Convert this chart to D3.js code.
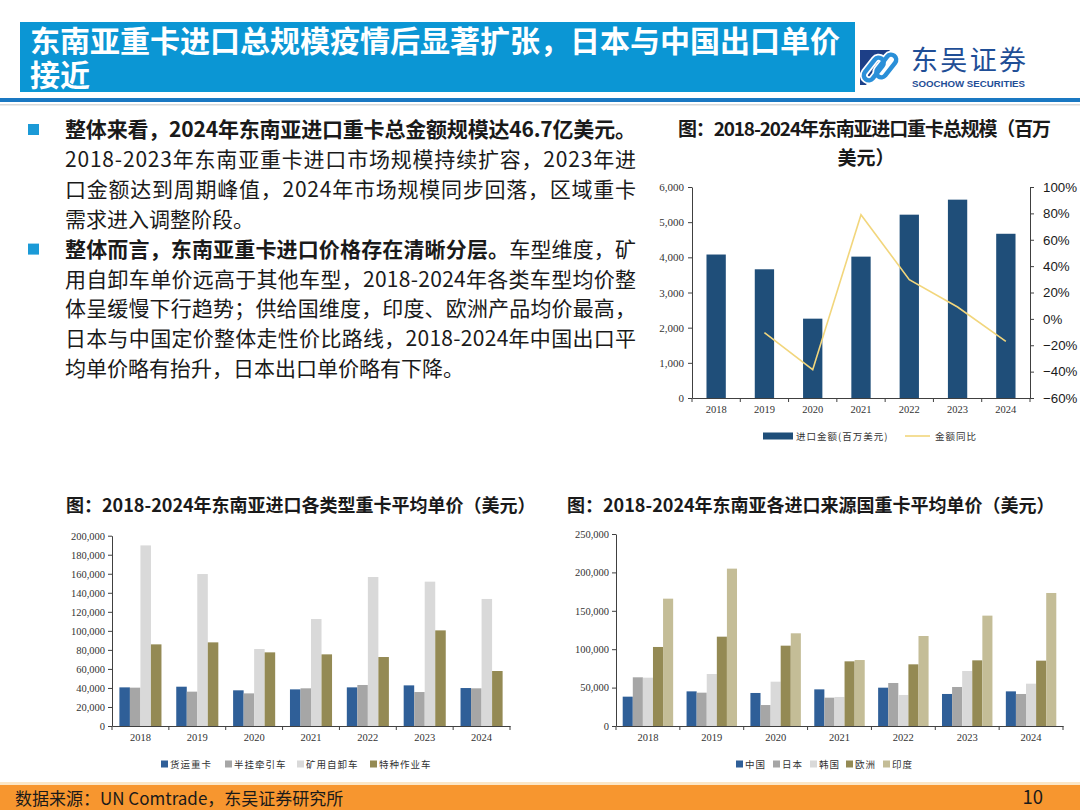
<!DOCTYPE html>
<html><head><meta charset="utf-8">
<script src="https://cdn.jsdelivr.net/npm/d3@7"></script>
<style>
body{margin:0;background:#fff;}
#wrap{position:relative;width:1080px;height:810px;}
svg{display:block;font-family:"Noto Sans CJK SC","Noto Sans",sans-serif;}
#ht{position:absolute;left:30px;top:22px;width:822px;font-family:"Noto Sans CJK SC",sans-serif;
  font-size:30px;font-weight:700;line-height:34px;color:#fff;margin:0;}
</style></head><body>
<div id="wrap">
<svg id="c" width="1080" height="810"></svg>
<div id="ht"></div>
</div>
<script>
// ---------- DATA ----------
const years = ["2018","2019","2020","2021","2022","2023","2024"];
const importValue = [4080,3660,2256,4020,5213,5640,4670];           // 百万美元
const importYoY = [null,-0.105,-0.385,0.79,0.297,0.09,-0.17];         // 金额同比
const importLeftTicks = [0,1000,2000,3000,4000,5000,6000];
const importRightTicks = [-0.6,-0.4,-0.2,0,0.2,0.4,0.6,0.8,1.0];

const typeNames = ["货运重卡","半挂牵引车","矿用自卸车","特种作业车"];
const typeFreight = [40600,41300,37500,38500,40600,42700,39900];
const typeTractor = [40300,36100,34300,39600,43100,35700,39600];
const typeMining  = [189800,159700,80900,112400,156600,151700,133500];
const typeSpecial = [85800,87900,77400,75300,72500,100500,57800];
const typeTicks = [0,20000,40000,60000,80000,100000,120000,140000,160000,180000,200000];

const originNames = ["中国","日本","韩国","欧洲","印度"];
const originChina  = [38200,45100,43000,47700,49900,41700,45100];
const originJapan  = [63400,43400,27300,36900,56000,50800,41700];
const originKorea  = [62900,67700,57700,37800,40400,71600,55100];
const originEurope = [102900,116300,104600,84200,80300,85500,85100];
const originIndia  = [165800,204900,120700,85900,117200,143700,173200];
const originTicks = [0,50000,100000,150000,200000,250000];

const headerTitle = "东南亚重卡进口总规模疫情后显著扩张，日本与中国出口单价接近";
const chart1Title = ["图：2018-2024年东南亚进口重卡总规模（百万","美元）"];
const chart2Title = "图：2018-2024年东南亚进口各类型重卡平均单价（美元）";
const chart3Title = "图：2018-2024年东南亚各进口来源国重卡平均单价（美元）";
const chart1Legend = ["进口金额(百万美元)","金额同比"];
const bodyLines = [
  [{b:true,t:"整体来看，2024年东南亚进口重卡总金额规模达46.7亿美元。"}],
  [{b:false,t:"2018-2023年东南亚重卡进口市场规模持续扩容，2023年进"}],
  [{b:false,t:"口金额达到周期峰值，2024年市场规模同步回落，区域重卡"}],
  [{b:false,t:"需求进入调整阶段。"}],
  [{b:true,t:"整体而言，东南亚重卡进口价格存在清晰分层。"},{b:false,t:"车型维度，矿"}],
  [{b:false,t:"用自卸车单价远高于其他车型，2018-2024年各类车型均价整"}],
  [{b:false,t:"体呈缓慢下行趋势；供给国维度，印度、欧洲产品均价最高，"}],
  [{b:false,t:"日本与中国定价整体走性价比路线，2018-2024年中国出口平"}],
  [{b:false,t:"均单价略有抬升，日本出口单价略有下降。"}]
];
const justified = [true,true,true,false,true,true,true,true,false];
const footerText = "数据来源：UN Comtrade，东吴证券研究所";
const pageNo = "10";

// ---------- DRAW ----------
const svg = d3.select("#c");
const serif = "'Liberation Serif','Times New Roman',serif";
const axisColor = "#404040";

// header
svg.append("rect").attr("x",20).attr("y",22).attr("width",835).attr("height",70).attr("fill","#0b96d4");
d3.select("#ht").text(headerTitle);
svg.append("rect").attr("x",0).attr("y",98).attr("width",1080).attr("height",4).attr("fill","#1a78c2");
svg.append("rect").attr("x",0).attr("y",104).attr("width",1080).attr("height",1.5).attr("fill","#d9d9d9");

// logo
const logo = svg.append("g");
logo.append("path").attr("d","M860,50 L890,50 L866,85 L860,85 Z").attr("fill","#1d3f87");
const lk = logo.append("g").attr("transform","translate(880,67.5) rotate(-52)");
[["#ffffff",8],["#2a8fd8",4.5]].forEach(([c,w])=>{
  lk.append("rect").attr("x",-18).attr("y",-9).attr("width",26).attr("height",10).attr("rx",5)
    .attr("fill","none").attr("stroke",c).attr("stroke-width",w);
  lk.append("rect").attr("x",-8).attr("y",-1).attr("width",26).attr("height",10).attr("rx",5)
    .attr("fill","none").attr("stroke",c).attr("stroke-width",w);
});
logo.append("text").attr("x",911).attr("y",70).attr("font-size",27).attr("fill","#1f4e96")
  .attr("textLength",115).attr("lengthAdjust","spacing").text("东吴证券");
logo.append("text").attr("x",912).attr("y",86.5).attr("font-size",8.5).attr("font-weight",700)
  .attr("font-family","'Liberation Sans',Arial,sans-serif")
  .attr("textLength",113).attr("lengthAdjust","spacingAndGlyphs").attr("fill","#1f4e96").text("SOOCHOW SECURITIES");

// body text
[0,4].forEach(i=>{
  svg.append("rect").attr("x",28).attr("y",124+i*29.9).attr("width",11).attr("height",11).attr("fill","#1b9ad7");
});
bodyLines.forEach((segs,i)=>{
  const t = svg.append("text").attr("x",65).attr("y",137+i*29.9).attr("font-size",21).attr("fill","#1a1a1a");
  if (justified[i]) t.attr("textLength",571).attr("lengthAdjust","spacing");
  segs.forEach(s=>t.append("tspan").attr("font-weight",s.b?700:400).text(s.t));
});

// helpers
function styleAxis(g, font, size){
  g.select(".domain").attr("stroke",axisColor);
  g.selectAll(".tick line").attr("stroke",axisColor);
  g.selectAll(".tick text").attr("font-family",font).attr("font-size",size).attr("fill","#333");
}
function xAxis(g, x, y0){
  const a = g.append("g").attr("transform",`translate(0,${y0})`)
    .call(d3.axisBottom(x).tickSize(0).tickPadding(8));
  styleAxis(a, serif, 10.5);
  const bounds = years.map(d=>x(d)).concat([x.range()[1]]);
  g.selectAll(null).data(bounds).join("line")
    .attr("x1",d=>d).attr("x2",d=>d).attr("y1",y0).attr("y2",y0+4).attr("stroke",axisColor);
}
function legendItems(g, names, colors, xs, yc){
  names.forEach((n,i)=>{
    g.append("rect").attr("x",xs[i]).attr("y",yc-3.5).attr("width",7).attr("height",7).attr("fill",colors[i]);
    g.append("text").attr("x",xs[i]+9).attr("y",yc).attr("dominant-baseline","central")
      .attr("font-size",9.5).attr("letter-spacing",1).attr("fill","#333").text(n);
  });
}
function groupedBars(cfg){
  const g = svg.append("g");
  const x = d3.scaleBand().domain(years).range([cfg.x0,cfg.x1]);
  const y = d3.scaleLinear().domain([0,cfg.max]).range([cfg.y0,cfg.yTop]);
  const xs = d3.scaleBand().domain(cfg.names).range([0,x.bandwidth()*cfg.inner]);
  const off = x.bandwidth()*(1-cfg.inner)/2;
  cfg.series.forEach((s,i)=>{
    g.selectAll(null).data(s).join("rect")
      .attr("x",(d,j)=>x(years[j])+off+xs(cfg.names[i]))
      .attr("y",d=>y(d)).attr("width",xs.bandwidth()).attr("height",d=>cfg.y0-y(d))
      .attr("fill",cfg.colors[i]);
  });
  const ya = g.append("g").attr("transform",`translate(${cfg.x0},0)`)
    .call(d3.axisLeft(y).tickValues(cfg.ticks).tickFormat(d3.format(",")).tickSize(4).tickSizeOuter(0).tickPadding(3));
  styleAxis(ya, serif, 10.5);
  xAxis(g, x, cfg.y0);
  legendItems(g, cfg.names, cfg.colors, cfg.legendX, cfg.legendY);
}

// ---- chart 1: total import ----
{
  const g = svg.append("g");
  svg.append("text").attr("x",678).attr("y",135.5).attr("font-size",19).attr("font-weight",700)
    .attr("textLength",373).attr("lengthAdjust","spacing").attr("fill","#1a1a1a").text(chart1Title[0]);
  svg.append("text").attr("x",866).attr("y",164.5).attr("text-anchor","middle").attr("font-size",19)
    .attr("font-weight",700).attr("fill","#1a1a1a").text(chart1Title[1]);
  const x0=692,x1=1030,y0=398,yTop=187;
  const x = d3.scaleBand().domain(years).range([x0,x1]);
  const yL = d3.scaleLinear().domain([0,6000]).range([y0,yTop]);
  const yR = d3.scaleLinear().domain([-0.6,1.0]).range([y0,yTop]);
  const bw = x.bandwidth()*0.4;
  g.selectAll(null).data(importValue).join("rect")
    .attr("x",(d,i)=>x(years[i])+(x.bandwidth()-bw)/2).attr("y",d=>yL(d))
    .attr("width",bw).attr("height",d=>y0-yL(d)).attr("fill","#1f4e79");
  const line = d3.line().defined(d=>d!==null)
    .x((d,i)=>x(years[i])+x.bandwidth()/2).y(d=>yR(d));
  g.append("path").datum(importYoY).attr("d",line).attr("fill","none")
    .attr("stroke","#f2d67c").attr("stroke-width",1.6);
  const la = g.append("g").attr("transform",`translate(${x0},0)`)
    .call(d3.axisLeft(yL).tickValues(importLeftTicks).tickFormat(d3.format(",")).tickSize(4).tickSizeOuter(0).tickPadding(4));
  styleAxis(la, serif, 11);
  const ra = g.append("g").attr("transform",`translate(${x1},0)`)
    .call(d3.axisRight(yR).tickValues(importRightTicks).tickFormat(d3.format(".0%")).tickSize(4).tickSizeOuter(0).tickPadding(9));
  styleAxis(ra, "'Liberation Sans',Arial,sans-serif", 13.3);
  ra.selectAll(".tick text").attr("fill","#1a1a1a");
  xAxis(g, x, y0);
  // legend
  g.append("rect").attr("x",763).attr("y",432.5).attr("width",30).attr("height",7).attr("fill","#1f4e79");
  g.append("text").attr("x",796).attr("y",436).attr("dominant-baseline","central")
    .attr("font-size",9.5).attr("letter-spacing",1).attr("fill","#333").text(chart1Legend[0]);
  g.append("line").attr("x1",905).attr("x2",930).attr("y1",436).attr("y2",436)
    .attr("stroke","#f2d67c").attr("stroke-width",1.6);
  g.append("text").attr("x",935).attr("y",436).attr("dominant-baseline","central")
    .attr("font-size",9.5).attr("letter-spacing",1).attr("fill","#333").text(chart1Legend[1]);
}

// ---- chart 2: by type ----
svg.append("text").attr("x",66).attr("y",511.5).attr("font-size",18).attr("font-weight",700)
  .attr("fill","#1a1a1a").text(chart2Title);
groupedBars({
  x0:112,x1:510,y0:726,yTop:535.7,max:200000,ticks:typeTicks,inner:0.74,
  names:typeNames,series:[typeFreight,typeTractor,typeMining,typeSpecial],
  colors:["#2f5f98","#a6a6a6","#d9d9d9","#948a54"],
  legendX:[161,225,297,370],legendY:764
});

// ---- chart 3: by origin ----
svg.append("text").attr("x",567).attr("y",511.5).attr("font-size",18).attr("font-weight",700)
  .attr("fill","#1a1a1a").text(chart3Title);
groupedBars({
  x0:616,x1:1063,y0:726,yTop:534,max:250000,ticks:originTicks,inner:0.79,
  names:originNames,series:[originChina,originJapan,originKorea,originEurope,originIndia],
  colors:["#2f5f98","#a6a6a6","#d9d9d9","#948a54","#c4bd97"],
  legendX:[736,773,810,846,883],legendY:764
});

// footer
svg.append("rect").attr("x",0).attr("y",782).attr("width",1080).attr("height",3).attr("fill","#fbe6c6");
svg.append("rect").attr("x",0).attr("y",785).attr("width",1080).attr("height",25).attr("fill","#f7962f");
svg.append("text").attr("x",15).attr("y",804.5).attr("font-size",17).attr("fill","#1a1a1a").text(footerText);
svg.append("text").attr("x",1043).attr("y",803.5).attr("text-anchor","end").attr("font-size",18.5).attr("fill","#1a1a1a").text(pageNo);
</script>
</body></html>
